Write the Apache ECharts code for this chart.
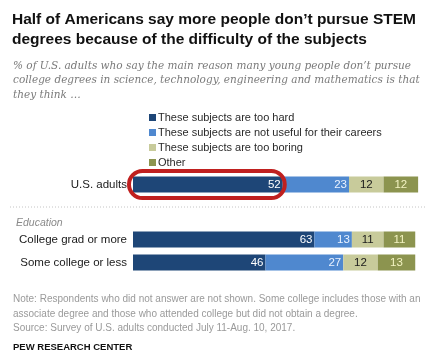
<!DOCTYPE html>
<html><head><meta charset="utf-8">
<script src="https://cdn.jsdelivr.net/npm/echarts@6/dist/echarts.min.js"></script>
<style>html,body{margin:0;padding:0;background:#fff}#c{width:448px;height:355px}</style>
</head><body><div id="c"></div>
<script>
const seriesNames = ['These subjects are too hard','These subjects are not useful for their careers','These subjects are too boring','Other'];
const totalCats = ['U.S. adults'];
const eduCats = ['College grad or more','Some college or less'];
const tooHard = [52, 63, 46];
const notUseful = [23, 13, 27];
const tooBoring = [12, 11, 12];
const other = [12, 11, 13];
const colors = ['#1e4677','#4f88cf','#c8cb9b','#8c944f'];
const labelColors = ['#ffffff','#eaf2ff','#1a1a1a','#f3f3c2'];
const allVals = [tooHard, notUseful, tooBoring, other];

const chart = echarts.init(document.getElementById('c'), null, {renderer:'canvas'});
const L = 133, W = 288;
const series = [];
allVals.forEach((vals, i) => {
  const lab = {show:true, position: i<2 ? 'insideRight' : 'inside', color: labelColors[i], fontSize: 11.5, fontFamily:'Liberation Sans', distance: 2};
  series.push({name: seriesNames[i], type:'bar', stack:'a', xAxisIndex:0, yAxisIndex:0, barWidth:16,
    data:[vals[0]], itemStyle:{color:colors[i]}, label:lab, emphasis:{disabled:true}});
  series.push({name: seriesNames[i], type:'bar', stack:'b', xAxisIndex:1, yAxisIndex:1, barWidth:16,
    data:[vals[1], vals[2]], itemStyle:{color:colors[i]}, label:lab, emphasis:{disabled:true}});
});
const yLab = {color:'#1a1a1a', fontSize:11.5, fontFamily:'Liberation Sans', margin:6};
chart.setOption({
  animation:false,
  backgroundColor:'#fff',
  title:[
    {text:"Half of Americans say more people don\u2019t pursue STEM\ndegrees because of the difficulty of the subjects", left:7, top:5,
     textStyle:{fontSize:15.5, fontWeight:'bold', color:'#111', fontFamily:'Liberation Sans', lineHeight:20}},
    {text:"% of U.S. adults who say the main reason many young people don\u2019t pursue\ncollege degrees in science, technology, engineering and mathematics is that\nthey think \u2026", left:8, top:54,
     textStyle:{fontSize:10.5, fontStyle:'italic', fontWeight:'normal', color:'#7a7a7a', fontFamily:'DejaVu Serif', lineHeight:14.5}},
    {text:"Education", left:11, top:213, textStyle:{fontSize:10.5, fontStyle:'italic', fontWeight:'normal', color:'#8a8a8a', fontFamily:'Liberation Sans'}},
    {text:"Note: Respondents who did not answer are not shown. Some college includes those with an\nassociate degree and those who attended college but did not obtain a degree.\nSource: Survey of U.S. adults conducted July 11-Aug. 10, 2017.", left:8, top:287,
     textStyle:{fontSize:10, fontWeight:'normal', color:'#9a9a9a', fontFamily:'Liberation Sans', lineHeight:14.5}},
    {text:"PEW RESEARCH CENTER", left:8, top:337, textStyle:{fontSize:9.5, fontWeight:'bold', color:'#111', fontFamily:'Liberation Sans'}}
  ],
  legend:{data:seriesNames, orient:'vertical', left:144, top:107, itemWidth:7, itemHeight:7, itemGap:4,
    icon:'rect', selectedMode:false, textStyle:{fontSize:11, color:'#2a2a2a', fontFamily:'Liberation Sans', padding:[0,0,0,-3]}},
  grid:[
    {left:L, width:W, top:173, height:23},
    {left:L, width:W, top:228, height:46}
  ],
  xAxis:[
    {type:'value', gridIndex:0, min:0, max:100, show:false},
    {type:'value', gridIndex:1, min:0, max:100, show:false}
  ],
  yAxis:[
    {type:'category', gridIndex:0, data:totalCats, inverse:true, axisLine:{show:false}, axisTick:{show:false}, axisLabel:yLab},
    {type:'category', gridIndex:1, data:eduCats, inverse:true, axisLine:{show:false}, axisTick:{show:false}, axisLabel:yLab}
  ],
  series: series
});
// annotation: red rounded outline around the U.S. adults "too hard" bar, positioned via the scales
const p0 = chart.convertToPixel({gridIndex:0}, [0, 0]);
const p1 = chart.convertToPixel({gridIndex:0}, [tooHard[0], 0]);
chart.setOption({graphic:[
  {type:'rect', shape:{x:p0[0]-4, y:p0[1]-13.5, width:(p1[0]-p0[0])+6, height:27, r:13.5},
   style:{fill:'none', stroke:'#c0201f', lineWidth:4}, z:100},
  {type:'line', shape:{x1:10, y1:207, x2:425, y2:207}, style:{stroke:'#c4c4c4', lineWidth:1, lineDash:[1,2]}}
]});
</script></body></html>
